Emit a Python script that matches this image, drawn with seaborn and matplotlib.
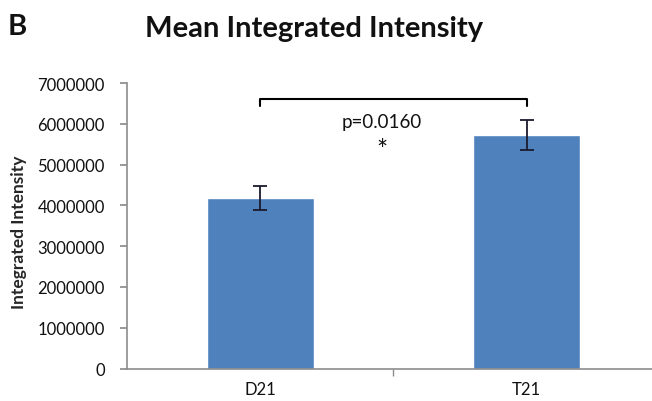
import matplotlib
matplotlib.use("Agg")
import matplotlib.pyplot as plt
import seaborn as sns
import pandas as pd

groups = ["D21", "T21"]
means = [4185000, 5730000]
errors = [290000, 375000]
p_text = "p=0.0160"
star = "*"
yticks = [0, 1000000, 2000000, 3000000, 4000000, 5000000, 6000000, 7000000]

sns.set_theme(style="white")
plt.rcParams['font.family'] = ['Lato', 'DejaVu Sans']

df = pd.DataFrame({"group": groups, "mean": means})

fig = plt.figure(figsize=(6.52, 4.02), dpi=100)
W, H = 652, 402
ax = fig.add_axes([127 / W, (H - 369.5) / H, (652 - 127) / W, (369.5 - 84) / H])

sns.barplot(data=df, x="group", y="mean", color="#4F81BD", saturation=1,
            width=0.4, ax=ax, errorbar=None)
ax.errorbar(range(len(groups)), means, yerr=errors, fmt="none",
            ecolor="#1a1a2e", elinewidth=1.3, capsize=5, capthick=1.3)

ax.set_ylim(0, 7000000)
ax.set_xlim(-0.5, 1.47)
ax.set_yticks(yticks)
ax.set_yticklabels([str(v) for v in yticks], fontsize=12, color="#111111")
ax.set_xticks(range(len(groups)))
ax.set_xticklabels(groups, fontsize=12, color="#111111")
ax.set_xlabel("")
ax.set_ylabel("Integrated Intensity", fontsize=12.5, fontweight="bold")
ax.yaxis.set_label_coords(-(127 - 27) / (652 - 127), 0.48)

for s in ["top", "right"]:
    ax.spines[s].set_visible(False)
for s in ["left", "bottom"]:
    ax.spines[s].set_color("#8c8c8c")
    ax.spines[s].set_linewidth(1.2)

ax.tick_params(axis="y", which="major", left=True, length=5, color="#8c8c8c", pad=11)
ax.tick_params(axis="x", which="major", bottom=False, length=0, pad=9)
ax.set_xticks([0.5], minor=True)
ax.tick_params(axis="x", which="minor", bottom=True, length=5, color="#8c8c8c")

# significance bracket
yb = 6610000
ax.plot([0, 0, 1, 1], [6440000, yb, yb, 6440000], color="black", lw=1.5)
ax.text(0.455, 5930000, p_text, ha="center", va="baseline", fontsize=13.5, color="#111111")
ax.text(0.455, 5150000, star, ha="center", va="baseline", fontsize=19, color="#111111")

fig.text(314 / W, 1 - 37 / H, "Mean Integrated Intensity", ha="center", va="baseline",
         fontsize=21, fontweight="bold", color="#111111")
fig.text(8 / W, 1 - 35 / H, "B", ha="left", va="baseline", fontsize=21,
         fontweight="bold", color="#111111")

fig.savefig("out.png", dpi=100)
